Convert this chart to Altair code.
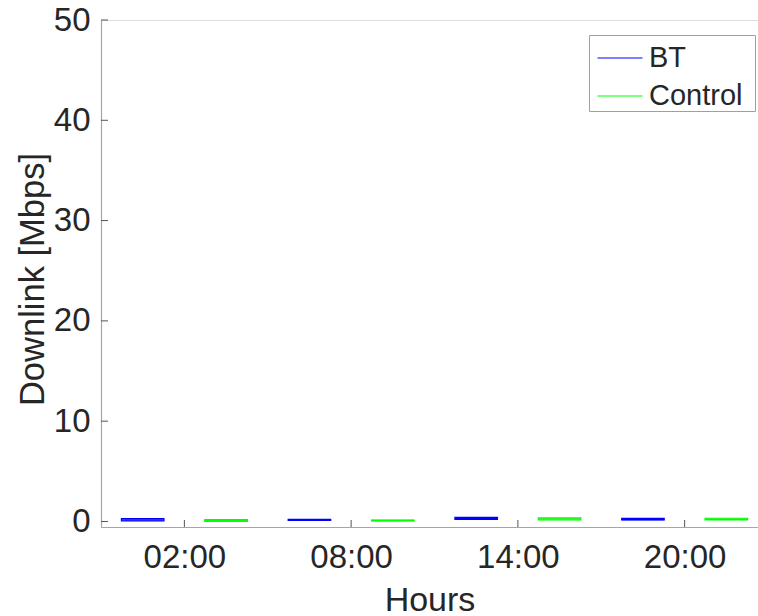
import altair as alt
import pandas as pd

hours = ["02:00", "08:00", "14:00", "20:00"]
groups = ["BT", "Control"]
# box statistics (Mbps), per hour for each group
bt_q1 = [0.05, 0.10, 0.20, 0.15]
bt_med = [0.15, 0.15, 0.30, 0.20]
bt_q3 = [0.28, 0.22, 0.40, 0.30]
ctl_q1 = [0.00, 0.05, 0.15, 0.15]
ctl_med = [0.10, 0.10, 0.25, 0.22]
ctl_q3 = [0.20, 0.15, 0.35, 0.32]
y_ticks = [0, 10, 20, 30, 40, 50]
x_ticks = [1.5, 3.5, 5.5, 7.5]

rows = []
for i, h in enumerate(hours):
    rows.append(dict(hour=h, group="BT", pos=2 * i + 1, q1=bt_q1[i], med=bt_med[i], q3=bt_q3[i]))
    rows.append(dict(hour=h, group="Control", pos=2 * i + 2, q1=ctl_q1[i], med=ctl_med[i], q3=ctl_q3[i]))
df = pd.DataFrame(rows)

W, H = 657, 507
FONT = "Liberation Sans"
TXT = "#262626"

xscale = alt.Scale(domain=[0.5, 8.38], nice=False, zero=False)
yscale = alt.Scale(domain=[-0.55, 50], nice=False, zero=False)
color = alt.Color(
    "group:N",
    scale=alt.Scale(domain=groups, range=["#0000ff", "#00ff00"]),
    legend=alt.Legend(
        title="\u2007", titleOrient="right", titleFontSize=2, titlePadding=13,
        titleColor="white",
        orient="none", legendX=488, legendY=15,
        symbolType="stroke", symbolSize=2025, symbolStrokeWidth=1,
        symbolOffset=8,
        labelFont=FONT, labelFontSize=29, labelColor=TXT, labelOffset=6,
        fillColor="white", strokeColor="#a0a0a0", padding=0,
        rowPadding=-7, labelLimit=300,
    ),
)

label_expr = "datum.value==1.5?'02:00':datum.value==3.5?'08:00':datum.value==5.5?'14:00':'20:00'"

base = alt.Chart(df).transform_calculate(
    xl="datum.pos - 0.255", xr="datum.pos + 0.255"
)

boxes = base.mark_rect(filled=False, strokeWidth=1.2).encode(
    x=alt.X("xl:Q", scale=xscale, axis=alt.Axis(
        values=x_ticks, labelExpr=label_expr, title="Hours", ticks=False,
        labelFont=FONT, labelFontSize=33, labelColor=TXT, labelPadding=14,
        titleFont=FONT, titleFontSize=34, titleColor=TXT, titleFontWeight="normal",
        titleBaseline="alphabetic", titleY=83, grid=False,
        domainColor="#a6a6a6", domainWidth=1.2)),
    x2="xr:Q",
    y=alt.Y("q1:Q", scale=yscale, axis=alt.Axis(
        values=y_ticks, title="Downlink [Mbps]", ticks=False,
        labelFont=FONT, labelFontSize=33, labelColor=TXT, labelPadding=11,
        titleFont=FONT, titleFontSize=34.5, titleColor=TXT, titleFontWeight="normal",
        titleBaseline="alphabetic", titleAngle=270, titleX=-58, titleY=259,
        titleAlign="center", grid=False,
        domainColor="#a6a6a6", domainWidth=1.2)),
    y2="q3:Q",
    stroke=color,
)

medians = base.mark_rule(strokeWidth=1.5).encode(
    x=alt.X("xl:Q", scale=xscale),
    x2="xr:Q",
    y=alt.Y("med:Q", scale=yscale),
    color=alt.Color("group:N", scale=alt.Scale(domain=groups, range=["#0000ff", "#00ff00"]), legend=None),
)

yt = alt.Chart(pd.DataFrame({"v": y_ticks})).mark_rule(color="#555555", strokeWidth=1).encode(
    y=alt.Y("v:Q", scale=yscale), x=alt.value(0), x2=alt.value(7)
)
xt = alt.Chart(pd.DataFrame({"v": x_ticks})).mark_rule(color="#555555", strokeWidth=1).encode(
    x=alt.X("v:Q", scale=xscale), y=alt.value(H), y2=alt.value(H - 7)
)

chart = alt.layer(boxes, medians, yt, xt).properties(
    width=W, height=H,
    autosize=alt.AutoSizeParams(type="none"),
    padding={"left": 101, "top": 20, "right": 0, "bottom": 89},
).configure_view(stroke=None).configure(background="white")

chart.save("out.html", embed_options={"renderer": "svg", "actions": False})
